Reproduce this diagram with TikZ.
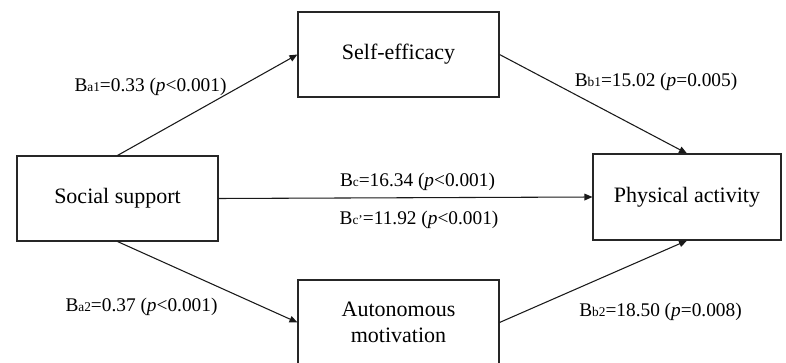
\documentclass[tikz,border=0pt]{standalone}
\usepackage{fontspec}
\setmainfont{Liberation Serif}
\usepackage{tikz}
\usetikzlibrary{arrows.meta,positioning}
\newcommand{\coef}[1]{B{\fontsize{10}{10}\selectfont #1}}
\tikzset{
  varbox/.style={
    rectangle, draw=black!85, line width=0.8pt,
    minimum width=201*0.75pt, minimum height=85*0.75pt,
    font=\fontsize{16.5}{19}\selectfont, align=center, inner sep=1pt
  },
  path/.style={line width=0.8pt, draw=black!90, -{Triangle[length=6pt,width=5pt]}},
  coeflabel/.style={font=\fontsize{14.5}{16}\selectfont, inner sep=1pt}
}
\begin{document}
\begin{tikzpicture}[x=0.75pt, y=-0.75pt]
  \useasboundingbox (0,0) rectangle (786,363);
  %\draw[help lines, step=50] (0,0) grid (786,363);

  % ==== variables ====
  \node[varbox] (support)    at (117.5,198.5) {Social support};
  \node[varbox] (efficacy)   at (398.5,54.5)  {Self-efficacy};
  \node[varbox] (motivation) at (398.5,322.5) {Autonomous\\[1pt]motivation};
  \node[varbox, minimum width=188*0.75pt, minimum height=86*0.75pt]
    (activity) at (687,197) {Physical activity};

  % ==== paths ====
  \draw[path] (support.north) -- (efficacy.west);
  \draw[path] (efficacy.east) -- (activity.north);
  \draw[path] (support.east) -- (activity.west);
  \draw[path] (support.south) -- (motivation.west);
  \draw[path] (motivation.east) -- (activity.south);

  % ==== coefficients ====
  \node[coeflabel] (ba1) at (150.5,87)  {\coef{a1}=0.33 (\textit{p}<0.001)};
  \node[coeflabel] (bb1) at (656,82)    {\coef{b1}=15.02 (\textit{p}=0.005)};
  \node[coeflabel] (bc)  at (417.5,182) {\coef{c}=16.34 (\textit{p}<0.001)};
  \node[coeflabel] (bcp) at (419,220)   {\coef{c'}=11.92 (\textit{p}<0.001)};
  \node[coeflabel] (ba2) at (141.5,307) {\coef{a2}=0.37 (\textit{p}<0.001)};
  \node[coeflabel] (bb2) at (660.5,312) {\coef{b2}=18.50 (\textit{p}=0.008)};
\end{tikzpicture}
\end{document}
